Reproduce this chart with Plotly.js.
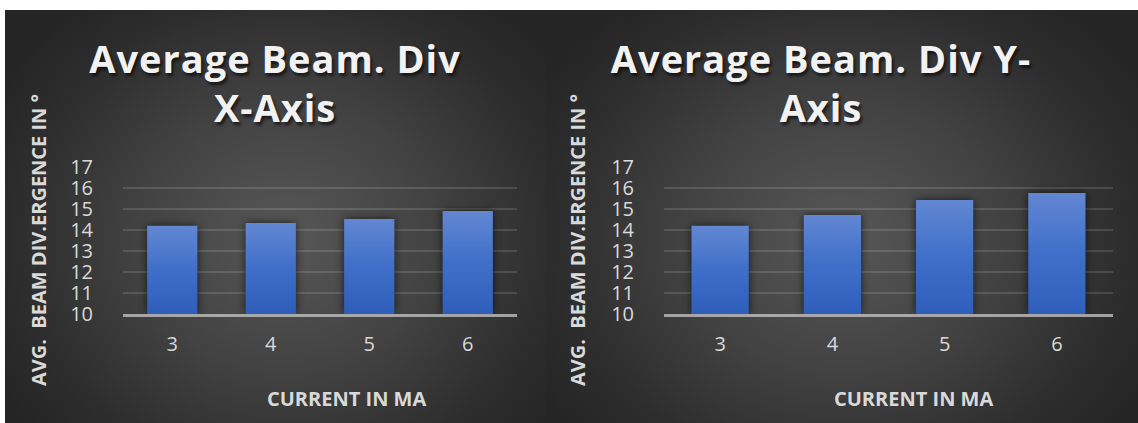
<!DOCTYPE html>
<html>
<head>
<meta charset="utf-8">
<script src="https://cdn.plot.ly/plotly-3.0.1.min.js"></script>
<style>
  html, body { margin: 0; padding: 0; background: #ffffff; }
  #wrap { position: relative; width: 1138px; height: 423px; overflow: hidden; background: #ffffff; }
  .panel { position: absolute; top: 10px; height: 413px; }
  #chartX { left: 5px; width: 541px;
    background: radial-gradient(ellipse 62% 72% at 52% 55%, #575757 0%, #424242 45%, #2d2d2d 80%, #252525 100%); }
  #chartY { left: 546px; width: 592px;
    background: radial-gradient(ellipse 60% 72% at 50% 55%, #575757 0%, #424242 45%, #2d2d2d 80%, #252525 100%); }
  .gtitle { letter-spacing: 1px; }
  .js-plotly-plot .bars .point path {
    fill: url(#barGrad) !important;
    filter: drop-shadow(0px 0px 4px rgba(0,0,0,0.65));
  }
</style>
</head>
<body>
<svg width="0" height="0" style="position:absolute">
  <defs>
    <linearGradient id="barGrad" x1="0" y1="0" x2="0" y2="1">
      <stop offset="0%" stop-color="#6287d2"/>
      <stop offset="50%" stop-color="#3f6fc9"/>
      <stop offset="100%" stop-color="#2e5eb9"/>
    </linearGradient>
  </defs>
</svg>
<div id="wrap">
  <div id="chartX" class="panel"></div>
  <div id="chartY" class="panel"></div>
</div>
<script>
// ---- data ----
const currents = ['3', '4', '5', '6'];
const divergenceX = [14.2, 14.33, 14.52, 14.9];
const divergenceY = [14.2, 14.72, 15.43, 15.76];
const yTicks = [10, 11, 12, 13, 14, 15, 16, 17];
const titleX = 'Average Beam. Div<br>X-Axis';
const titleY = 'Average Beam. Div Y-<br>Axis';
const xAxisLabel = 'CURRENT IN MA';
const yAxisLabel = 'AVG.\u00A0 BEAM DIV.ERGENCE IN °';

function makeLayout(width, title, titleCenterX, marginR, yTitleX, xTitleX) {
  return {
    width: width, height: 413,
    margin: { l: 118, r: marginR, t: 157, b: 109 },
    paper_bgcolor: 'rgba(0,0,0,0)',
    plot_bgcolor: 'rgba(0,0,0,0)',
    showlegend: false,
    bargap: 0.49,
    title: {
      text: title,
      x: titleCenterX / width, xref: 'container', xanchor: 'center',
      y: 1 - 63 / 413, yref: 'container', yanchor: 'top',
      font: { family: 'Open Sans, sans-serif', size: 38, weight: 700, color: '#f2f2f2',
              shadow: '2px 3px 3px rgba(0,0,0,0.6)' }
    },
    xaxis: {
      type: 'category',
      categoryorder: 'array', categoryarray: currents,
      showgrid: false, zeroline: false,
      showline: true, linecolor: 'rgba(200,200,200,0.75)', linewidth: 3,
      ticks: '', ticklabelstandoff: 10,
      tickfont: { family: 'Open Sans, sans-serif', size: 20, color: '#d9d9d9' },
      fixedrange: true
    },
    yaxis: {
      range: [10, 17], tickvals: yTicks, ticktext: yTicks.map(String),
      showgrid: true, gridcolor: 'rgba(255,255,255,0.13)', gridwidth: 2,
      zeroline: false, showline: false,
      ticks: '', ticklabelstandoff: 29,
      tickfont: { family: 'Open Sans, sans-serif', size: 20, color: '#d9d9d9' },
      fixedrange: true
    },
    annotations: [
      { text: yAxisLabel, xref: 'paper', yref: 'paper',
        x: (yTitleX - 118) / (width - 118 - marginR), y: (304 - 230) / 147,
        xanchor: 'center', yanchor: 'middle', textangle: -90, showarrow: false,
        font: { family: 'Open Sans, sans-serif', size: 20, weight: 700, color: '#d9d9d9' } },
      { text: xAxisLabel, xref: 'paper', yref: 'paper',
        x: (xTitleX - 118) / (width - 118 - marginR), y: -(388 - 304) / 147,
        xanchor: 'center', yanchor: 'middle', showarrow: false,
        font: { family: 'Open Sans, sans-serif', size: 20, weight: 700, color: '#d9d9d9' } }
    ]
  };
}

// bars start at the axis floor (10); bar length = value - 10 so the top lands at the value
function lengths(values) { return values.map(v => v - 10); }

Plotly.newPlot('chartX', [{
    type: 'bar', x: currents, y: lengths(divergenceX), base: 10,
    marker: { color: '#4472c4', line: { width: 0 } }, hoverinfo: 'skip'
  }],
  makeLayout(541, titleX, 270, 29, 33, 341), { staticPlot: true });

Plotly.newPlot('chartY', [{
    type: 'bar', x: currents, y: lengths(divergenceY), base: 10,
    marker: { color: '#4472c4', line: { width: 0 } }, hoverinfo: 'skip'
  }],
  makeLayout(592, titleY, 275, 25, 31, 367), { staticPlot: true });
</script>
</body>
</html>
